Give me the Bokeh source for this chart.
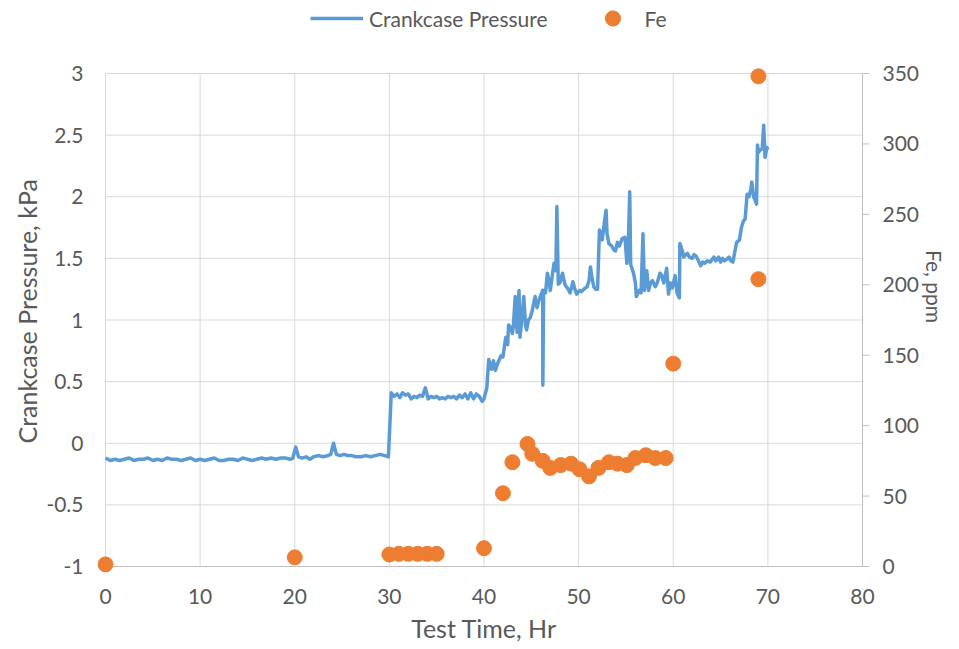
from bokeh.plotting import figure
from bokeh.models import (Range1d, LinearAxis, FixedTicker, CustomJSTickFormatter,
                          Legend, LegendItem, ColumnDataSource, Title)
from bokeh.embed import file_html
from bokeh.resources import INLINE

# ---------------- data ----------------
# Crankcase pressure trace, kPa, in four pieces
seg_a_time = [0, 0.5, 1, 1.5, 2, 2.5, 3, 3.5, 4, 4.5,
              5, 5.5, 6, 6.5, 7, 7.5, 8, 8.5, 9, 9.5,
              10, 10.5, 11, 11.5, 12, 12.5, 13, 13.5, 14, 14.5,
              15, 15.5, 16, 16.5, 17, 17.5, 18, 18.5, 19, 19.5,
              19.8, 20.1, 20.4, 20.8, 21.2, 21.6, 22, 22.5, 23, 23.5,
              23.8, 24.1, 24.4, 24.8, 25.2, 25.6, 26, 26.5, 27, 27.5,
              28, 28.5, 29, 29.5, 29.9]
seg_a_kpa = [-0.12, -0.14, -0.13, -0.14, -0.13, -0.12, -0.14, -0.13, -0.13, -0.12,
             -0.14, -0.13, -0.14, -0.12, -0.13, -0.13, -0.14, -0.13, -0.12, -0.14,
             -0.13, -0.14, -0.13, -0.12, -0.14, -0.14, -0.13, -0.13, -0.14, -0.12,
             -0.13, -0.14, -0.13, -0.12, -0.13, -0.12, -0.13, -0.12, -0.12, -0.13,
             -0.12, -0.03, -0.11, -0.12, -0.11, -0.13, -0.11, -0.10, -0.11, -0.10,
             -0.09, 0.00, -0.09, -0.10, -0.09, -0.10, -0.10, -0.11, -0.11, -0.10,
             -0.11, -0.10, -0.09, -0.10, -0.11]

seg_b_time = [30.2, 30.5, 30.8, 31.1, 31.4, 31.7, 32.0, 32.3, 32.6, 32.9,
              33.2, 33.5, 33.8, 34.1, 34.4, 34.7, 35.0, 35.3, 35.6, 35.9,
              36.2, 36.5, 36.8, 37.1, 37.4, 37.7, 38.0, 38.3, 38.6, 38.9,
              39.2, 39.5, 39.8, 40.0]
seg_b_kpa = [0.41, 0.38, 0.40, 0.37, 0.41, 0.39, 0.40, 0.36, 0.38, 0.37,
             0.39, 0.38, 0.45, 0.36, 0.38, 0.37, 0.38, 0.36, 0.37, 0.36,
             0.38, 0.37, 0.38, 0.36, 0.39, 0.37, 0.40, 0.36, 0.41, 0.36,
             0.40, 0.38, 0.34, 0.36]

seg_c_time = [40.3, 40.5, 40.8, 41.0, 41.2, 41.5, 41.8, 42.0, 42.3, 42.5,
              42.6, 42.8, 43.0, 43.1, 43.3, 43.5, 43.7, 43.8, 44.0, 44.2,
              44.4, 44.5, 44.7, 44.9, 45.1, 45.4, 45.6, 45.8, 46.0, 46.2,
              46.22, 46.3, 46.5, 46.7, 46.9, 47.0, 47.2, 47.4, 47.6, 47.7,
              47.85, 48.0, 48.3, 48.45, 48.6, 48.9, 49.1, 49.4, 49.6, 49.8,
              50.1, 50.3, 50.55, 50.9, 51.1, 51.25, 51.4, 51.6, 51.8, 52.0,
              52.2, 52.35, 52.5, 52.7, 52.9, 53.0, 53.2, 53.5, 53.7, 53.9,
              54.1, 54.3, 54.6, 54.9, 55.1, 55.25, 55.4, 55.5, 55.8, 56.0,
              56.1, 56.4, 56.6, 56.8, 56.96, 57.2, 57.4, 57.6, 57.8, 58.1,
              58.3, 58.6, 58.8, 59.0, 59.3, 59.5, 59.7, 59.9, 60.2, 60.4,
              60.5, 60.65, 60.7]
seg_c_kpa = [0.45, 0.68, 0.60, 0.67, 0.59, 0.66, 0.71, 0.70, 0.86, 0.80,
             0.96, 0.94, 0.89, 0.95, 1.19, 0.90, 1.24, 0.86, 1.00, 1.19,
             0.95, 0.92, 1.00, 1.02, 1.08, 1.19, 1.10, 1.16, 1.20, 1.24,
             0.47, 1.24, 1.22, 1.38, 1.30, 1.24, 1.35, 1.46, 1.40, 1.92,
             1.29, 1.30, 1.38, 1.32, 1.28, 1.25, 1.22, 1.31, 1.25, 1.21,
             1.24, 1.23, 1.25, 1.27, 1.32, 1.43, 1.35, 1.27, 1.25, 1.25,
             1.73, 1.70, 1.65, 1.78, 1.89, 1.70, 1.62, 1.60, 1.57, 1.56,
             1.63, 1.60, 1.66, 1.67, 1.46, 1.60, 2.04, 1.45, 1.38, 1.30,
             1.19, 1.24, 1.22, 1.70, 1.24, 1.40, 1.24, 1.30, 1.32, 1.27,
             1.30, 1.38, 1.36, 1.30, 1.42, 1.21, 1.30, 1.26, 1.36, 1.22,
             1.20, 1.18, 1.62]

seg_d_time = [60.8, 61.0, 61.1, 61.3, 61.5, 61.7, 62.0, 62.2, 62.4, 62.6,
              62.9, 63.1, 63.3, 63.6, 63.9, 64.1, 64.3, 64.5, 64.8, 65.0,
              65.2, 65.4, 65.6, 65.9, 66.1, 66.3, 66.5, 66.7, 67.0, 67.2,
              67.4, 67.6, 67.8, 68.0, 68.2, 68.3, 68.5, 68.6, 68.8, 68.9,
              69.0, 69.2, 69.4, 69.56, 69.7, 69.9, 70.0]
seg_d_kpa = [1.60, 1.55, 1.51, 1.53, 1.54, 1.51, 1.50, 1.53, 1.52, 1.49,
             1.44, 1.47, 1.46, 1.48, 1.47, 1.49, 1.51, 1.48, 1.51, 1.47,
             1.50, 1.48, 1.49, 1.51, 1.48, 1.47, 1.55, 1.63, 1.65, 1.75,
             1.80, 1.82, 2.02, 2.00, 2.06, 2.12, 2.00, 1.98, 1.94, 2.42,
             2.36, 2.38, 2.39, 2.58, 2.32, 2.40, 2.38]

# Fe, ppm (right axis)
fe_time_hr = [0, 20, 30, 31, 32, 33, 34, 35, 40, 42,
              43, 44.6, 45.1, 46.2, 47, 48.1, 49.2, 50.1, 51.1, 52.1,
              53.2, 54.1, 55.1, 56, 57.1, 58.1, 59.2, 60, 69, 69]
fe_ppm = [1.5, 6.5, 8.5, 9, 9, 9, 9, 9, 13, 52,
          74, 87, 80, 75, 70, 72, 73, 69, 64, 70,
          74, 73, 72, 77, 79, 77, 77, 144, 204, 348]

x_ticks = [0, 10, 20, 30, 40, 50, 60, 70, 80]
kpa_ticks = [-1, -0.5, 0, 0.5, 1, 1.5, 2, 2.5, 3]
fe_ticks = [0, 50, 100, 150, 200, 250, 300, 350]

series_names = ["Crankcase Pressure", "Fe"]
axis_titles = {"x": "Test Time, Hr", "left": "Crankcase Pressure, kPa", "right": "Fe, ppm"}

# ---------------- layout / style ----------------
FONT = "Lato"
TXT = "#595959"
GRID = "#d9d9d9"
AXIS = "#bfbfbf"
BLUE = "#5B9BD5"
ORANGE = "#ED7D31"

W, H = 959, 649
# where the plotting area (axis extents) sits in the picture
PLOT_L, PLOT_R, PLOT_T, PLOT_B = 105, 862, 73, 566
# the Bokeh frame is larger so that edge markers and the legend are not clipped
FRAME_L, FRAME_R, FRAME_T, FRAME_B = 97, 870, 0, 572

px_per_hr = (PLOT_R - PLOT_L) / (x_ticks[-1] - x_ticks[0])
px_per_kpa = (PLOT_B - PLOT_T) / (kpa_ticks[-1] - kpa_ticks[0])
x_lo = x_ticks[0] - (PLOT_L - FRAME_L) / px_per_hr
x_hi = x_ticks[-1] + (FRAME_R - PLOT_R) / px_per_hr
kpa_lo = kpa_ticks[0] - (FRAME_B - PLOT_B) / px_per_kpa
kpa_hi = kpa_ticks[-1] + (PLOT_T - FRAME_T) / px_per_kpa
ppm_per_kpa = (fe_ticks[-1] - fe_ticks[0]) / (kpa_ticks[-1] - kpa_ticks[0])
fe_lo = fe_ticks[0] + (kpa_lo - kpa_ticks[0]) * ppm_per_kpa
fe_hi = fe_ticks[-1] + (kpa_hi - kpa_ticks[-1]) * ppm_per_kpa

p = figure(width=W, height=H, output_backend="svg", toolbar_location=None,
           x_range=Range1d(x_lo, x_hi), y_range=Range1d(kpa_lo, kpa_hi),
           min_border_left=FRAME_L, min_border_right=W - FRAME_R,
           min_border_top=FRAME_T, min_border_bottom=H - FRAME_B)
p.extra_y_ranges = {"fe": Range1d(fe_lo, fe_hi)}
p.outline_line_color = None
p.xgrid.visible = False
p.ygrid.visible = False
p.background_fill_color = "white"
p.border_fill_color = "white"

# gridlines
vsrc = ColumnDataSource(dict(x=x_ticks, y0=[kpa_ticks[0]] * len(x_ticks),
                             y1=[kpa_ticks[-1]] * len(x_ticks)))
p.segment(x0="x", y0="y0", x1="x", y1="y1", source=vsrc, line_color=GRID,
          line_width=1, level="underlay")
hsrc = ColumnDataSource(dict(y=kpa_ticks[1:], x0=[x_ticks[0]] * (len(kpa_ticks) - 1),
                             x1=[x_ticks[-1]] * (len(kpa_ticks) - 1)))
p.segment(x0="x0", y0="y", x1="x1", y1="y", source=hsrc, line_color=GRID,
          line_width=1, level="underlay")
# bottom axis line
p.segment(x0=[x_ticks[0]], y0=[kpa_ticks[0]], x1=[x_ticks[-1]], y1=[kpa_ticks[0]],
          line_color=AXIS, line_width=1, level="underlay")
# right axis line + outward ticks
p.segment(x0=[x_ticks[-1]], y0=[fe_ticks[0]], x1=[x_ticks[-1]], y1=[fe_ticks[-1]],
          y_range_name="fe", line_color=AXIS, line_width=1, level="underlay")
tsrc = ColumnDataSource(dict(y=fe_ticks, x0=[x_ticks[-1]] * len(fe_ticks),
                             x1=[x_ticks[-1] + 7 / px_per_hr] * len(fe_ticks)))
p.segment(x0="x0", y0="y", x1="x1", y1="y", source=tsrc, y_range_name="fe",
          line_color=AXIS, line_width=1, level="underlay")

time_hr = seg_a_time + seg_b_time + seg_c_time + seg_d_time
pressure_kpa = seg_a_kpa + seg_b_kpa + seg_c_kpa + seg_d_kpa
line_r = p.line(time_hr, pressure_kpa, line_color=BLUE, line_width=3.5, line_join="round")
fe_r = p.scatter(fe_time_hr, fe_ppm, y_range_name="fe", size=15, fill_color=ORANGE,
                 line_color=ORANGE, marker="circle")


def style_axis(ax, standoff, title_standoff, title_size):
    ax.axis_line_color = None
    ax.major_tick_line_color = None
    ax.minor_tick_line_color = None
    ax.major_tick_in = 0
    ax.major_tick_out = 0
    ax.major_label_standoff = standoff
    ax.major_label_text_font = FONT
    ax.major_label_text_font_size = "21px"
    ax.major_label_text_color = TXT
    ax.axis_label_text_font = FONT
    ax.axis_label_text_font_size = title_size
    ax.axis_label_text_font_style = "normal"
    ax.axis_label_text_color = TXT
    ax.axis_label_standoff = title_standoff


xa = p.xaxis[0]
xa.ticker = FixedTicker(ticks=x_ticks)
xa.axis_label = axis_titles["x"]
style_axis(xa, 16, 6, "25px")

ya = p.yaxis[0]
ya.ticker = FixedTicker(ticks=kpa_ticks)
ya.formatter = CustomJSTickFormatter(code="return String(Math.round(tick*10)/10)")
style_axis(ya, 14, 6, "25px")

# left axis title as a side-panel Title so it can be centred on the -1..3 span
left_title = Title(text=axis_titles["left"], align="left", offset=FRAME_B - 443,
                   text_font=FONT, text_font_size="25px", text_font_style="normal",
                   text_color=TXT, standoff=4)
p.add_layout(left_title, "left")

ra = LinearAxis(y_range_name="fe", ticker=FixedTicker(ticks=fe_ticks),
                axis_label=axis_titles["right"])
style_axis(ra, 12, 0, "21px")
p.add_layout(ra, "right")

LEG_CY = 18  # legend centre line, px from top of picture
LEG_H = 38
legend = Legend(items=[LegendItem(label=series_names[0], renderers=[line_r]),
                       LegendItem(label=series_names[1], renderers=[fe_r])],
                orientation="horizontal",
                location=(310 - FRAME_L, FRAME_B - LEG_CY - LEG_H // 2),
                border_line_color=None, background_fill_alpha=0,
                padding=0, margin=0, spacing=38, glyph_width=53, glyph_height=LEG_H,
                label_standoff=6, label_text_font=FONT, label_text_font_size="21px",
                label_text_color=TXT)
p.add_layout(legend, "center")

open("out.html", "w").write(file_html(p, INLINE))
